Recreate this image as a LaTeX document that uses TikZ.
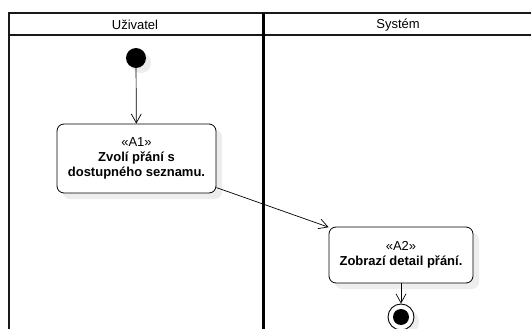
\documentclass[tikz,border=0pt]{standalone}
\usepackage{fontspec}
\setmainfont{Liberation Sans}
\usetikzlibrary{arrows.meta,shadows}
\begin{document}
\begin{tikzpicture}[x=1pt,y=-1pt,
  lane/.style={line width=2pt,draw=black!90},
  divider/.style={line width=3pt,draw=black},
  action/.style={draw,line width=0.8pt,rounded corners=7pt,fill=white,inner sep=0pt,
    align=center,font=\fontsize{13}{15}\selectfont,
    drop shadow={shadow xshift=6pt,shadow yshift=-6pt,fill=black!7,opacity=1}},
  flow/.style={draw,line width=0.7pt,-{Straight Barb[length=9pt,width=10pt,line width=0.7pt]}},
  lanetitle/.style={font=\fontsize{13}{15}\selectfont,anchor=center}
]
\useasboundingbox (0,0) rectangle (531,329);
\fill[white] (0,0) rectangle (531,329);

% swimlane frame
\draw[lane] (531,13.5) -- (9,13.5) -- (9,329);
\draw[lane] (9,35.5) -- (531,35.5);
\draw[divider] (263,13.5) -- (263,329);
\node[lanetitle] (ut) at (135,25) {Uživatel};
\node[lanetitle] (st) at (398,25) {Systém};

% initial node
\fill[black!7] (141,63) circle (10);
\node[circle,fill=black,minimum size=20pt,inner sep=0pt] (start) at (136,58) {};

% actions
\node[action,minimum width=159pt,minimum height=69pt] (a1) at (136.5,158.5)
  {«A1»\\ \bfseries Zvolí přání s\\ \bfseries dostupného seznamu.};
\node[action,minimum width=144pt,minimum height=56pt] (a2) at (401,255)
  {«A2»\\ \bfseries Zobrazí detail přání.};

% final node
\fill[black!7] (406,322) circle (13);
\node[circle,draw,line width=0.9pt,fill=white,minimum size=26pt,inner sep=0pt] (end) at (401,317) {};
\fill[black] (end.center) circle (8);

% control flows
\draw[flow] (start) -- (a1);
\draw[flow] (a1.-20.5) -- (a2.159.4);
\draw[flow] (a2) -- (end);
\end{tikzpicture}
\end{document}
